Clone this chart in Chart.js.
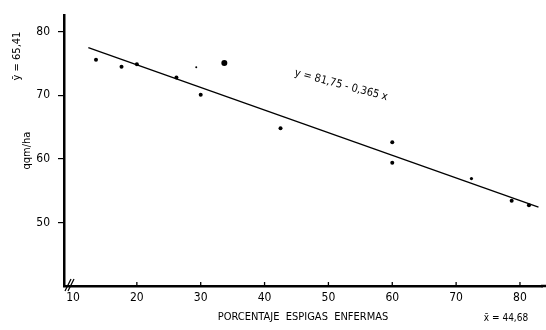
<!DOCTYPE html>
<html><head><meta charset="utf-8">
<script src="https://cdn.jsdelivr.net/npm/chart.js@4/dist/chart.umd.min.js"></script>
<style>html,body{margin:0;padding:0;background:#fff}#w{width:546px;height:330px;position:relative}</style>
</head><body><div id="w"><canvas id="c"></canvas></div>
<script>
// Observed points (x = % diseased spikes, y = qqm/ha)
const obsX = [13.6, 17.6, 20.0, 26.2, 29.3, 30.0, 33.7, 42.5, 60.0, 60.0, 72.4, 78.7, 81.4];
const obsY = [75.6, 74.5, 74.9, 72.8, 74.4, 70.1, 75.1, 64.8, 62.6, 59.4, 56.9, 53.4, 52.7];
const obsSize = [2, 2, 2, 2, 1, 2, 3, 2, 2, 2, 1.6, 2, 2];
// Regression line endpoints as drawn
const lineX = [12.4, 82.9];
const lineY = [77.5, 52.4];
const xTicks = [10, 20, 30, 40, 50, 60, 70, 80];
const yTicks = [50, 60, 70, 80];
const eqText = 'y = 81,75 - 0,365 x';
const yMeanText = 'ȳ = 65,41';
const xMeanText = 'x̄ = 44,68';
const xTitle = 'PORCENTAJE  ESPIGAS  ENFERMAS';
const yTitle = 'qqm/ha';

const FONT = "'Liberation Sans Narrow','DejaVu Sans Condensed',sans-serif";

const extras = {
  id: 'extras',
  afterDraw(chart) {
    const ctx = chart.ctx, xs = chart.scales.x, ys = chart.scales.y;
    ctx.save();
    ctx.strokeStyle = '#000';
    // extend x axis line to the page edge
    ctx.lineWidth = 2.5;
    ctx.beginPath(); ctx.moveTo(xs.right - 1, ys.bottom); ctx.lineTo(chart.width, ys.bottom); ctx.stroke();
    ctx.lineWidth = 1.3;
    // inward x tick marks
    xTicks.forEach(v => {
      if (v === 10) return;
      const px = xs.getPixelForValue(v);
      ctx.beginPath(); ctx.moveTo(px, ys.bottom); ctx.lineTo(px, ys.bottom - 4); ctx.stroke();
    });
    // axis break marks
    ctx.lineWidth = 1.2;
    for (let i = 0; i < 2; i++) {
      const bx = xs.left + 1 + i * 3;
      ctx.beginPath(); ctx.moveTo(bx, ys.bottom + 5); ctx.lineTo(bx + 6, ys.bottom - 7); ctx.stroke();
    }
    ctx.fillStyle = '#000';
    // equation
    ctx.save();
    ctx.translate(xs.getPixelForValue(52.0), ys.getPixelForValue(71.6));
    ctx.rotate(15 * Math.PI / 180);
    ctx.font = "11px " + FONT;
    ctx.textAlign = 'center'; ctx.textBaseline = 'middle';
    ctx.fillText(eqText, 0, 0);
    ctx.restore();
    // y mean
    ctx.save();
    ctx.translate(17, 56);
    ctx.rotate(-Math.PI / 2);
    ctx.font = "11px " + FONT;
    ctx.textAlign = 'center'; ctx.textBaseline = 'middle';
    ctx.fillText(yMeanText, 0, 0);
    ctx.restore();
    // x mean
    ctx.font = "10px " + FONT;
    ctx.textAlign = 'center'; ctx.textBaseline = 'middle';
    ctx.fillText(xMeanText, 506, 318);
    ctx.restore();
  }
};

new Chart(document.getElementById('c'), {
  type: 'scatter',
  data: {
    datasets: [
      {
        data: obsX.map((x, i) => ({x, y: obsY[i]})),
        backgroundColor: '#000', borderColor: '#000',
        pointRadius: obsSize, pointBorderWidth: 0
      },
      {
        type: 'line',
        data: lineX.map((x, i) => ({x, y: lineY[i]})),
        borderColor: '#000', borderWidth: 1.3, pointRadius: 0, fill: false
      }
    ]
  },
  plugins: [extras],
  options: {
    responsive: true, maintainAspectRatio: false, animation: false,
    layout: {padding: {left: 0, right: 0, top: 15, bottom: 0}},
    plugins: {legend: {display: false}, tooltip: {enabled: false}},
    scales: {
      x: {
        type: 'linear', min: 8.59, max: 83.45,
        afterBuildTicks: s => { s.ticks = xTicks.map(v => ({value: v})); },
        afterFit: s => { s.height = 44; },
        grid: {display: true, drawOnChartArea: false, drawTicks: false},
        border: {color: '#000', width: 2.5},
        ticks: {color: '#000', font: {family: FONT, size: 12}, padding: 5, maxRotation: 0,
                callback: v => String(v)},
        title: {display: true, text: xTitle, color: '#000', font: {family: FONT, size: 11}, padding: {bottom: 6, top: 0}}
      },
      y: {
        type: 'linear', min: 40, max: 82.6,
        afterBuildTicks: s => { s.ticks = yTicks.map(v => ({value: v})); },
        afterFit: s => { s.width = 64; },
        grid: {display: true, drawOnChartArea: false, drawTicks: true, tickLength: 6, color: '#000', lineWidth: 1.2},
        border: {color: '#000', width: 2.5},
        ticks: {color: '#000', font: {family: FONT, size: 12}, padding: 8, callback: v => String(v)},
        title: {display: true, text: yTitle, color: '#000', font: {family: FONT, size: 11}, padding: {top: 21, bottom: 0}}
      }
    }
  }
});
</script></body></html>
